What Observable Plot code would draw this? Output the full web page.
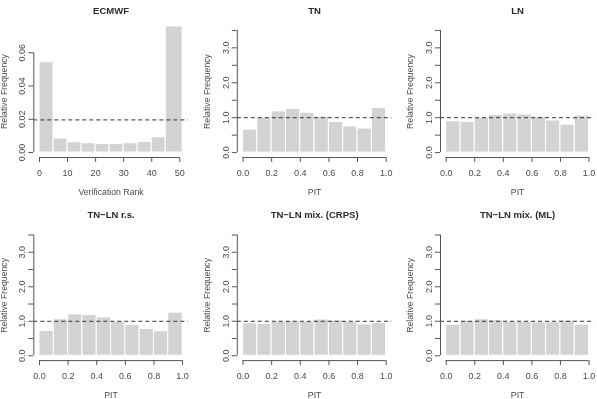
<!DOCTYPE html>
<html>
<head>
<meta charset="utf-8">
<script src="https://cdn.jsdelivr.net/npm/d3@7"></script>
<script src="https://cdn.jsdelivr.net/npm/@observablehq/plot@0.6"></script>
<style>
  html, body { margin: 0; padding: 0; background: #fff; }
  #fig { position: relative; width: 597px; height: 399px; overflow: hidden; background: #fff; filter: grayscale(1); }
  #fig > svg { position: absolute; overflow: visible; }
</style>
</head>
<body>
<div id="fig"></div>
<script>
// Panel titles
const titles = ["ECMWF", "TN", "LN", "TN\u2212LN r.s.", "TN\u2212LN mix. (CRPS)", "TN\u2212LN mix. (ML)"];

// Verification rank histogram of the raw ensemble (51 ranks, last bin one rank wider)
const rankBreaks = [0, 5, 10, 15, 20, 25, 30, 35, 40, 45, 51];
const ecmwfFreq = [0.0543, 0.0084, 0.0062, 0.0056, 0.0052, 0.0052, 0.0056, 0.0064, 0.0092, 0.0758];

// PIT histograms of the post-processed forecasts
const pitBreaks = [0, 0.1, 0.2, 0.3, 0.4, 0.5, 0.6, 0.7, 0.8, 0.9, 1.0];
const tnFreq   = [0.66, 1.00, 1.18, 1.25, 1.14, 1.03, 0.88, 0.75, 0.69, 1.28];
const lnFreq   = [0.90, 0.88, 1.00, 1.08, 1.12, 1.09, 1.03, 0.92, 0.80, 1.06];
const rsFreq   = [0.72, 1.06, 1.20, 1.18, 1.11, 0.99, 0.89, 0.78, 0.71, 1.25];
const crpsFreq = [0.94, 0.92, 0.99, 1.00, 0.99, 1.05, 1.02, 0.99, 0.91, 0.95];
const mlFreq   = [0.90, 1.01, 1.06, 1.03, 0.99, 0.99, 0.97, 0.97, 1.02, 0.90];

// Reference (uniform) levels
const rankUniform = 1 / 51;
const pitUniform = 1;

// Axis ticks
const rankTicks = [0, 10, 20, 30, 40, 50];
const rankFreqTicks = [0, 0.02, 0.04, 0.06];
const pitTicks = [0, 0.2, 0.4, 0.6, 0.8, 1.0];
const densTicks = [0, 0.5, 1, 1.5, 2, 2.5, 3, 3.5];
const densLabelTicks = [0, 1, 2, 3];

// Page layout: each panel gets its own cell; plot regions in page pixels
const cellX = [0, 199, 398], cellW = 199;
const cellY = [0, 200], cellH = [200, 199];
const cols = [[33.3, 187.8], [236.8, 391.4], [440, 594.2]];
const rows = [
  {top: 25, bottom: 157, titleY: 10},
  {top: 229.7, bottom: 360.1, titleY: 214}
];

const axisColor = "#555";
const textColor = "#4a4a4a";
const font = "'Liberation Sans', Arial, Helvetica, sans-serif";

function toBins(breaks, freq) {
  return freq.map((v, i) => ({x1: breaks[i], x2: breaks[i + 1], y: v}));
}

function panel({index, breaks, freq, ref, xDomain, yDomain, xTicks, xFormat, yTicks, yLabelTicks, yFormat, xTitle}) {
  const c = index % 3, r = Math.floor(index / 3);
  const col = cols[c], row = rows[r];
  const ox = cellX[c], oy = cellY[r], w = cellW, h = cellH[r];
  const svg = Plot.plot({
    width: w,
    height: h,
    marginLeft: col[0] - ox,
    marginRight: ox + w - col[1],
    marginTop: row.top - oy,
    marginBottom: oy + h - row.bottom,
    x: {domain: xDomain},
    y: {domain: yDomain},
    style: {fontFamily: font, fontSize: "9px", background: "#fff", color: textColor},
    marks: [
      Plot.rectY(toBins(breaks, freq), {x1: "x1", x2: "x2", y: "y", fill: "#d3d3d3", stroke: "#fff", strokeWidth: 1}),
      Plot.ruleY([ref], {stroke: "#333", strokeWidth: 1, strokeDasharray: "4,3"}),
      // axis lines span first to last tick, on the plot region edge
      Plot.ruleY([yDomain[0]], {x1: xTicks[0], x2: xTicks[xTicks.length - 1], stroke: axisColor}),
      Plot.ruleX([xDomain[0]], {y1: yTicks[0], y2: yTicks[yTicks.length - 1], stroke: axisColor}),
      Plot.axisX(xTicks, {tickSize: 5, tickFormat: () => "", stroke: axisColor, label: null}),
      Plot.axisY(yTicks, {tickSize: 5, tickFormat: () => "", stroke: axisColor, label: null}),
      // tick labels
      Plot.text(xTicks, {x: (d) => d, frameAnchor: "bottom", dy: 15.5, text: xFormat, fill: textColor, fontSize: 9, lineAnchor: "middle"}),
      Plot.text(yLabelTicks, {y: (d) => d, frameAnchor: "left", dx: -11.5, rotate: -90, text: yFormat, fill: textColor, fontSize: 9, textAnchor: "middle", lineAnchor: "middle"}),
      // axis titles
      Plot.text([xTitle], {frameAnchor: "bottom", dy: 35, fill: textColor, fontSize: 8.7, lineAnchor: "middle"}),
      Plot.text(["Relative Frequency"], {frameAnchor: "left", dx: -30, rotate: -90, fill: textColor, fontSize: 8.7, textAnchor: "middle", lineAnchor: "middle"}),
      // panel title
      Plot.text([titles[index]], {frameAnchor: "top", dy: row.titleY - row.top, fill: "#2a2a2a", fontSize: 9.5, fontWeight: "bold", lineAnchor: "middle"})
    ]
  });
  svg.style.left = ox + "px";
  svg.style.top = oy + "px";
  return svg;
}

const fmt1 = (d) => d3.format(".1f")(d);
const fmt2 = (d) => d3.format(".2f")(d);

const pitCommon = {
  breaks: pitBreaks,
  ref: pitUniform,
  xDomain: [-0.04, 1.04],
  yDomain: [-0.14, 3.64],
  xTicks: pitTicks,
  xFormat: fmt1,
  yTicks: densTicks,
  yLabelTicks: densLabelTicks,
  yFormat: fmt1,
  xTitle: "PIT"
};

const panels = [
  {index: 0, breaks: rankBreaks, freq: ecmwfFreq, ref: rankUniform,
   xDomain: [-2.04, 53.04], yDomain: [-0.003, 0.0764],
   xTicks: rankTicks, xFormat: (d) => String(d),
   yTicks: rankFreqTicks, yLabelTicks: rankFreqTicks, yFormat: fmt2,
   xTitle: "Verification Rank"},
  {...pitCommon, index: 1, freq: tnFreq},
  {...pitCommon, index: 2, freq: lnFreq},
  {...pitCommon, index: 3, freq: rsFreq},
  {...pitCommon, index: 4, freq: crpsFreq},
  {...pitCommon, index: 5, freq: mlFreq}
];

const fig = document.getElementById("fig");
for (const p of panels) fig.appendChild(panel(p));
</script>
</body>
</html>
